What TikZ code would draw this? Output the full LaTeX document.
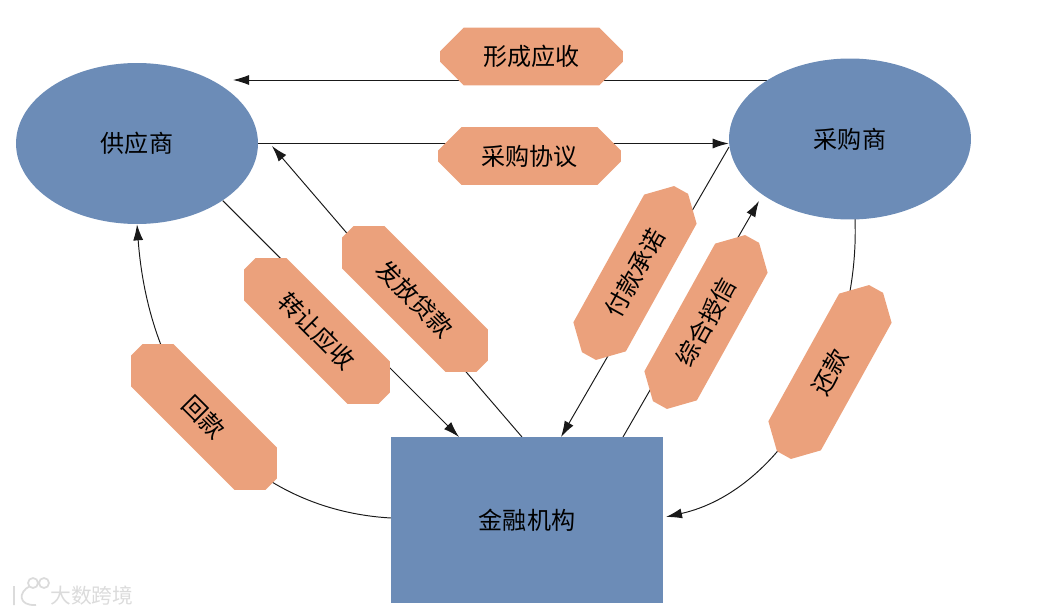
\documentclass[tikz,border=0pt]{standalone}
\usepackage{fontspec}
\setmainfont{Noto Sans CJK SC}
\usepackage{xcolor}
\usetikzlibrary{arrows.meta, shapes.geometric, shapes.misc, calc, backgrounds}
\definecolor{partyblue}{HTML}{6C8CB7}
\definecolor{tagsalmon}{HTML}{EBA17C}
\tikzset{
    party/.style={fill=partyblue, inner sep=0cm, font=\fontsize{13.7}{16}\selectfont},
    flowtag/.style={chamfered rectangle, fill=tagsalmon, inner sep=0cm, minimum width=3.66cm, minimum height=1.16cm,
        chamfered rectangle xsep=0.25cm, chamfered rectangle ysep=0.25cm, font=\fontsize{13.7}{16}\selectfont},
    slanted/.style={minimum width=3.8cm, minimum height=1.2cm,
        chamfered rectangle xsep=0.22cm, chamfered rectangle ysep=0.22cm},
    flow/.style={draw=black!90, line width=0.55pt},
    flowarrow/.style={flow, -{Latex[length=0.32cm,width=0.2cm]}},
    stamp/.style={draw=black!14, line width=1pt}
}
\newcommand{\company}[3]{
    \node[party, ellipse, minimum width=4.84cm, minimum height=3.22cm] (#1) at (#2) {\raisebox{1pt}{#3}};
}
\newcommand{\flowlabel}[4]{
    \node[flowtag, rotate=#3] (#1) at (#2) {#4};
}
\newcommand{\slantlabel}[4]{
    \node[flowtag, slanted, rotate=#3] (#1) at (#2) {#4};
}
\begin{document}
\begin{tikzpicture}[x=0.02cm, y=-0.02cm]
    \useasboundingbox (0, 0) rectangle (1038, 615);
    \company{gong}{137, 143.5}{供应商}
    \company{cai}{850, 139}{采购商}
    \node[party, rectangle, minimum width=5.44cm, minimum height=3.32cm] (bank) at (527, 520) {\raisebox{1pt}{金融机构}};

    \flowlabel{receivable}{531.5, 56.5}{0}{形成应收}
    \flowlabel{purchase}{529.5, 156}{0}{采购协议}
    \slantlabel{transfer}{317, 331}{-45}{转让应收}
    \slantlabel{loan}{415, 299}{-45}{发放贷款}
    \slantlabel{repayback}{204, 417}{-45}{回款}
    \slantlabel{promise}{635, 273}{61}{付款承诺}
    \slantlabel{credit}{706, 322}{61}{综合授信}
    \slantlabel{repay}{830, 372}{61}{还款}

    % free ends of the connectors
    \coordinate (gong-r) at (233, 80);
    \coordinate (gong-l) at (272, 146);
    \coordinate (cai-u) at (767, 80);
    \coordinate (cai-l) at (729, 147);
    \coordinate (cai-d) at (759, 201);
    \coordinate (cai-b) at (855, 219);
    \coordinate (bank-a) at (459, 437);
    \coordinate (bank-b) at (522, 437);
    \coordinate (bank-c) at (561, 437);
    \coordinate (bank-d) at (623, 437);
    \coordinate (bank-e) at (666, 517);
    \coordinate (bank-w) at (391, 518);

    \begin{pgfonlayer}{background}
        \draw[flowarrow] (cai-u) -- (gong-r);
        \draw[flowarrow] (gong.east) -- (gong.east -| cai.west);
        \draw[flowarrow] (gong.south east) -- (bank-a);
        \draw[flowarrow] (bank-b) -- (gong-l);
        \draw[flowarrow] (cai-l) -- (bank-c);
        \draw[flowarrow] (bank-d) -- (cai-d);
        \draw[flowarrow] (cai-b) .. controls (860, 350) and (785, 490) .. (bank-e);
        \draw[flowarrow] (bank-w) .. controls (250, 510) and (150, 400) .. (gong.south);
    \end{pgfonlayer}

    % watermark
    \draw[stamp] (14, 586) -- (14, 605) (30, 586) .. controls (18, 592) and (18, 606) .. (36, 605);
    \draw[stamp] (33, 583) circle (5) (44, 583) circle (5);
    \node[text=black!14, font=\fontsize{11.8}{14}\selectfont, inner sep=0cm] (mark) at (92, 596) {大数跨境};
\end{tikzpicture}
\end{document}
